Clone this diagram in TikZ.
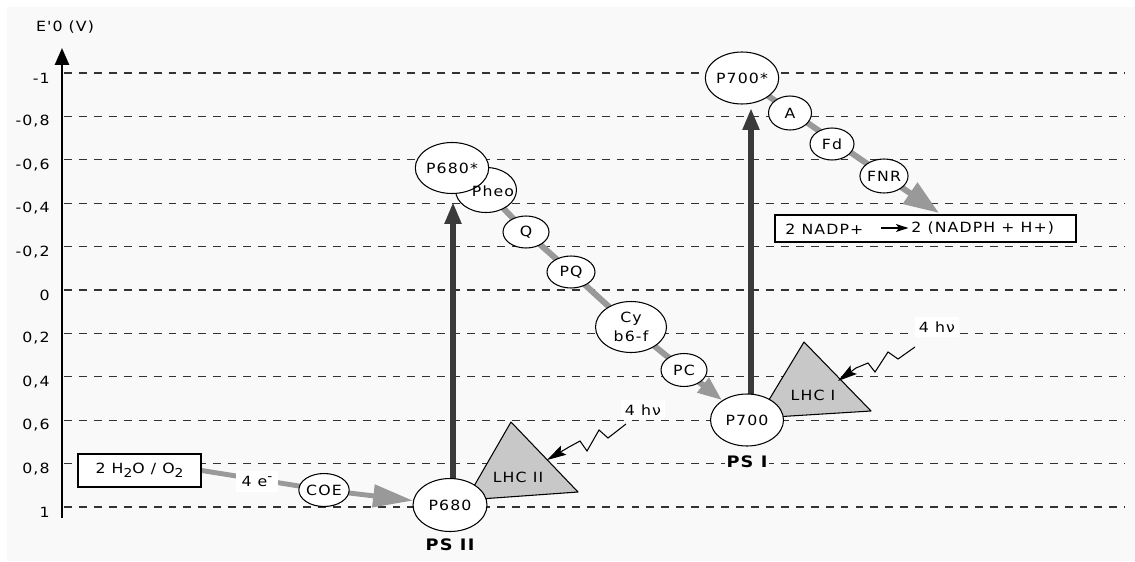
\documentclass[tikz,border=0pt]{standalone}
\usepackage{fontspec}
\newfontfamily\dvs[LetterSpace=8,FakeStretch=1.12]{DejaVu Sans}
\usetikzlibrary{shapes.geometric,arrows.meta}
\definecolor{bgc}{HTML}{F9F9F9}
\definecolor{gridc}{HTML}{333333}
\definecolor{garc}{HTML}{999999}
\definecolor{darc}{HTML}{3A3A3A}
\definecolor{trif}{HTML}{C8C8C8}
\newcommand\myf{\dvs\fontsize{8}{10.5}\selectfont}
\pgfdeclarelayer{back}
\pgfdeclarelayer{mid}
\pgfsetlayers{back,mid,main}
\begin{document}
\begin{tikzpicture}[x=0.02cm,y=-0.02cm,
  every node/.style={font=\myf},
  el/.style={ellipse, draw, fill=white, line width=0.6pt, inner sep=0pt},
  gridline/.style={gridc, line width=0.7pt, dash pattern=on 4.5pt off 4pt},
  garrow/.style={garc, line width=3.4pt},
  darrow/.style={darc, line width=3.4pt, -{Triangle[length=12.5pt,width=9pt]}},
  tri/.style={fill=trif, draw=black, line width=0.6pt, line join=round},
  hv/.style={fill=white, inner sep=2.5pt},
  light/.style={line width=0.6pt, -{Stealth[length=11pt,width=6pt,inset=2pt]}},
  bx/.style={draw, fill=white, line width=0.8pt, inner sep=0pt},
  pslab/.style={font=\dvs\bfseries\fontsize{9}{10}\selectfont}]
\begin{pgfonlayer}{back}
  \fill[white] (0,0) rectangle (1135,561);
  \fill[bgc] (7,7) rectangle (1135,561);
  \foreach \t [count=\i] in {{-1},{-0,8},{-0,6},{-0,4},{-0,2},{0},{0,2},{0,4},{0,6},{0,8},{1}}{
    \pgfmathsetmacro\yy{73+43.4*(\i-1)}
    \draw[gridline] (64,\yy) -- (1125,\yy);
    \node[anchor=east, inner sep=0pt] (tick\i) at (50,\yy+5) {\t};
  }
  \coordinate (ax0) at (62,518);
  \coordinate (ax1) at (62,48);
  \draw[line width=1.2pt, -{Triangle[length=9.6pt,width=8pt]}] (ax0) -- (ax1);
  \node (ylab) at (65,27) {E'0 (V)};
\end{pgfonlayer}

% triangles (antenna complexes)
\draw[tri] (511,422) -- (578,492) -- (466,500) -- cycle;
\draw[tri] (804,342) -- (871,411) -- (758,418) -- cycle;
\node (lhc2) at (518,477) {LHC II};
\node (lhc1) at (813,395) {LHC I};

% carriers
\node[el, minimum width=1.22cm, minimum height=0.9cm] (pheo) at (486,190) {};
\node[el, minimum width=1.42cm, minimum height=1.02cm] (P680s) at (452,168) {P680*};
\node[inner sep=0pt] (pheotxt) at (493,191) {Pheo};
\node[el, minimum width=0.92cm, minimum height=0.64cm] (Q) at (526,232) {Q};
\node[el, minimum width=0.96cm, minimum height=0.64cm] (PQ) at (571,272) {PQ};
\node[el, minimum width=1.42cm, minimum height=1.02cm, align=center] (Cy) at (631,327) {Cy\\b6-f};
\node[el, minimum width=0.92cm, minimum height=0.66cm] (PC) at (684,370) {PC};
\node[el, minimum width=1.46cm, minimum height=1.04cm] (P700) at (747,420) {P700};
\node[el, minimum width=1.48cm, minimum height=1.06cm] (P680) at (450,505) {P680};
\node[el, minimum width=1.42cm, minimum height=1.04cm] (P700s) at (742,78) {P700*};
\node[el, minimum width=0.86cm, minimum height=0.68cm] (A) at (790,113) {A};
\node[el, minimum width=0.88cm, minimum height=0.64cm] (Fd) at (832,144) {Fd};
\node[el, minimum width=0.88cm, minimum height=0.68cm] (FNR) at (884,176) {FNR};
\node[el, minimum width=0.96cm, minimum height=0.66cm] (COE) at (324,490) {COE};

% boxes
\node[bx, minimum width=2.46cm, minimum height=0.66cm] (H2O) at (139.5,470.5)
  {2 H\raisebox{-2pt}{\fontsize{7}{8}\selectfont 2}O / O\raisebox{-2pt}{\fontsize{7}{8}\selectfont 2}};
\node[bx, minimum width=6.02cm, minimum height=0.54cm] (nadp) at (925.5,228.5) {};
\node[inner sep=0pt, anchor=west] (n1) at (785,229) {2 NADP+};
\node[inner sep=0pt, anchor=west] (n2) at (911,228) {2 (NADPH + H+)};
\draw[line width=0.7pt, -{Stealth[length=7pt,width=4.5pt,inset=1.5pt]}] ([xshift=-17pt]n2.west) -- ([xshift=-1.5pt]n2.west);

% labels
\node[fill=white, inner sep=3pt] (e4) at (257,481) {4 e\raisebox{3pt}{\fontsize{7}{7}\selectfont -}};
\node[hv] (hv2) at (643,410) {4 hν};
\node[hv] (hv1) at (937,327) {4 hν};
\node[pslab] (ps2) at (450,545) {PS II};
\node[pslab, fill=bgc, inner sep=1pt] (ps1) at (747,462) {PS I};

% light arrows
\coordinate (z2) at (626,424);
\coordinate (z1) at (915,347);
\draw[light] (z2) -- (608,438) -- (599,430) -- (587,451) -- (580,441) -- (569,447) -- (547,460);
\draw[light] (z1) -- (898,359) -- (888,352) -- (875,372) -- (868,363) -- (856,368) -- (838,381);

% arrows behind nodes
\coordinate (t2) at (453,202);
\coordinate (t1) at (751,108);
\coordinate (nadptip) at (939,213);
\begin{pgfonlayer}{mid}
  \draw[garrow, -{Triangle[length=14pt,width=10pt]}] (pheo.center) -- (Q.center) -- (PQ.center) -- (Cy.center) -- (PC.center) -- (P700);
  \draw[garrow, -{Triangle[length=20pt,width=14pt]}] (P700s.center) -- (nadptip);
  \draw[garrow, line width=2.8pt, -{Triangle[length=22.7pt,width=12.5pt]}] (H2O.east) -- (COE.center) -- (P680);
  \draw[darrow] (P680.center -| t2) -- (t2);
  \draw[darrow] (P700.center -| t1) -- (t1);
\end{pgfonlayer}
\end{tikzpicture}
\end{document}
